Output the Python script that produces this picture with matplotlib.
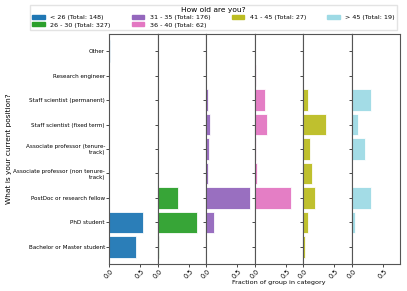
import numpy as np
import matplotlib
matplotlib.use('Agg')
from matplotlib import pyplot as plt
from matplotlib.patches import Patch

# positions bottom -> top
positions = ['Bachelor or Master student', 'PhD student', 'PostDoc or research fellow',
             'Associate professor (non tenure-\ntrack)', 'Associate professor (tenure-\ntrack)',
             'Staff scientist (fixed term)', 'Staff scientist (permanent)',
             'Research engineer', 'Other']

groups = ['< 26', '26 - 30', '31 - 35', '36 - 40', '41 - 45', '> 45']
totals = [148, 327, 176, 62, 27, 19]
colors = ['#1f77b4', '#2ca02c', '#9467bd', '#e377c2', '#bcbd22', '#9edae5']

# fraction of each age group in each position (same order as positions)
frac_lt26 = [0.432, 0.541, 0.0, 0.0, 0.0, 0.0, 0.0, 0.0, 0.007]
frac_26_30 = [0.024, 0.630, 0.330, 0.0, 0.0, 0.003, 0.0, 0.012, 0.0]
frac_31_35 = [0.0, 0.131, 0.710, 0.028, 0.045, 0.063, 0.023, 0.0, 0.0]
frac_36_40 = [0.0, 0.0, 0.581, 0.032, 0.016, 0.194, 0.161, 0.016, 0.0]
frac_41_45 = [0.037, 0.074, 0.185, 0.148, 0.111, 0.370, 0.074, 0.0, 0.0]
frac_gt45 = [0.0, 0.053, 0.316, 0.0, 0.211, 0.105, 0.316, 0.0, 0.0]
fractions = [frac_lt26, frac_26_30, frac_31_35, frac_36_40, frac_41_45, frac_gt45]

plt.rcParams['font.family'] = 'DejaVu Sans'
fig, axes = plt.subplots(1, 6, sharey=True, figsize=(4.07, 2.91), dpi=100)
fig.subplots_adjust(left=0.268, right=0.983, top=0.883, bottom=0.093, wspace=0)

y = np.arange(len(positions))
for ax, vals, col in zip(axes, fractions, colors):
    ax.barh(y, vals, height=0.88, color=col, edgecolor='white', linewidth=0.6, alpha=0.95)
    ax.set_xlim(0, 0.78)
    ax.set_ylim(-0.7, 8.7)
    ax.set_xticks([0.0, 0.5])
    ax.set_xticklabels(['0.0', '0.5'], rotation=45, fontsize=4.7)
    ax.tick_params(axis='both', length=2, width=0.5, pad=1)
    for s in ax.spines.values():
        s.set_color('#555555')
        s.set_linewidth(0.8)

axes[0].set_yticks(y)
axes[0].set_yticklabels(positions, fontsize=4.1, ha='right')
axes[0].set_ylabel('What is your current position?', fontsize=5.3)
axes[0].yaxis.set_label_coords(-2.0, 0.5)
axes[3].set_xlabel('Fraction of group in category', fontsize=4.6, ha='center')
axes[3].xaxis.set_label_coords(0.5, -0.068)

handles = [Patch(color=c) for c in colors]
labels = ['%s (Total: %d)' % (g, t) for g, t in zip(groups, totals)]
fig.legend(handles, labels, ncol=4, title='How old are you?', fontsize=4.6,
           title_fontsize=5.4, loc='upper left', bbox_to_anchor=(0.066, 0.995, 0.917, 0.0),
           mode='expand', frameon=True, handlelength=2.0, handleheight=0.6,
           borderpad=0.3, labelspacing=0.35, edgecolor='#dddddd', fancybox=False)

plt.savefig('out.png', dpi=100)
